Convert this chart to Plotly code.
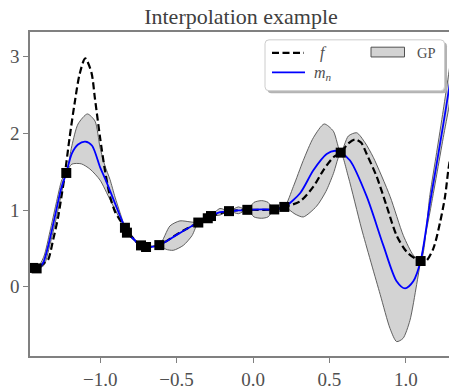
import plotly.graph_objects as go

# ---------------- data ----------------
obs_x = [-1.440, -1.416, -1.222, -0.838, -0.825, -0.733, -0.700, -0.613, -0.358, -0.296,
         -0.275, -0.157, -0.037, 0.139, 0.205, 0.574, 1.097]
obs_y = [0.246, 0.240, 1.485, 0.770, 0.706, 0.540, 0.519, 0.544, 0.838, 0.894,
         0.923, 0.987, 1.004, 1.009, 1.042, 1.750, 0.336]

f_x = [-1.461, -1.433, -1.394, -1.368, -1.342, -1.309, -1.276, -1.255, -1.232, -1.200,
       -1.167, -1.134, -1.098, -1.058, -1.034, -1.001, -0.969, -0.936, -0.903, -0.870,
       -0.838, -0.798, -0.740, -0.674, -0.613, -0.491, -0.358, -0.281, -0.157, -0.037,
       0.139, 0.205, 0.308, 0.395, 0.460, 0.526, 0.574, 0.622, 0.668, 0.707,
       0.744, 0.810, 0.875, 0.940, 1.006, 1.060, 1.097, 1.132, 1.180, 1.224,
       1.257, 1.278, 1.302]
f_y = [0.259, 0.253, 0.262, 0.310, 0.349, 0.604, 0.902, 1.157, 1.460, 1.950,
       2.400, 2.780, 2.980, 2.800, 2.450, 1.950, 1.520, 1.180, 0.980, 0.870,
       0.774, 0.668, 0.540, 0.521, 0.544, 0.693, 0.838, 0.914, 0.987, 1.004,
       1.009, 1.042, 1.115, 1.307, 1.520, 1.690, 1.750, 1.868, 1.923, 1.881,
       1.732, 1.434, 1.051, 0.668, 0.455, 0.370, 0.336, 0.336, 0.498, 0.838,
       1.179, 1.520, 1.817]

mean_x = [-1.461, -1.433, -1.407, -1.374, -1.342, -1.298, -1.255, -1.222, -1.185, -1.145,
          -1.098, -1.054, -1.001, -0.968, -0.936, -0.870, -0.838, -0.827, -0.780, -0.740,
          -0.700, -0.613, -0.489, -0.358, -0.296, -0.275, -0.216, -0.157, -0.096, -0.037,
          0.057, 0.139, 0.205, 0.308, 0.395, 0.482, 0.537, 0.574, 0.635, 0.744,
          0.853, 0.940, 0.995, 1.049, 1.097, 1.158, 1.202, 1.245, 1.283, 1.302]
mean_y = [0.250, 0.246, 0.242, 0.310, 0.519, 0.902, 1.285, 1.485, 1.741, 1.856,
          1.894, 1.843, 1.562, 1.410, 1.255, 0.923, 0.770, 0.706, 0.620, 0.540,
          0.519, 0.544, 0.690, 0.838, 0.894, 0.923, 0.974, 0.987, 0.996, 1.004,
          1.009, 1.009, 1.042, 1.221, 1.520, 1.732, 1.775, 1.750, 1.648, 1.179,
          0.540, 0.072, -0.022, 0.072, 0.336, 1.093, 1.604, 2.115, 2.584, 2.840]

upper_x = [-1.461, -1.407, -1.368, -1.329, -1.289, -1.250, -1.222, -1.185, -1.145, -1.084,
           -1.034, -1.001, -0.969, -0.936, -0.903, -0.870, -0.838, -0.827, -0.780, -0.733,
           -0.700, -0.613, -0.543, -0.478, -0.412, -0.358, -0.296, -0.275, -0.216, -0.157,
           -0.096, -0.037, 0.007, 0.057, 0.098, 0.139, 0.205, 0.264, 0.329, 0.395,
           0.466, 0.526, 0.574, 0.624, 0.679, 0.733, 0.787, 0.897, 0.984, 1.049,
           1.097, 1.158, 1.202, 1.245, 1.283, 1.302]
upper_y = [0.262, 0.262, 0.400, 0.720, 1.080, 1.400, 1.486, 1.843, 2.124, 2.255,
           2.162, 1.817, 1.580, 1.400, 1.170, 0.966, 0.774, 0.712, 0.635, 0.545,
           0.519, 0.544, 0.795, 0.860, 0.847, 0.838, 0.894, 0.923, 1.022, 0.987,
           1.042, 1.004, 1.102, 1.124, 1.102, 1.009, 1.042, 1.307, 1.648, 1.945,
           2.124, 2.030, 1.750, 1.967, 2.009, 1.881, 1.690, 1.179, 0.668, 0.413,
           0.336, 1.204, 1.754, 2.303, 2.813, 3.090]

lower_x = [-1.461, -1.407, -1.368, -1.329, -1.289, -1.250, -1.222, -1.185, -1.124, -1.067,
           -1.001, -0.936, -0.870, -0.838, -0.827, -0.780, -0.733, -0.700, -0.613, -0.569,
           -0.522, -0.456, -0.399, -0.358, -0.296, -0.275, -0.216, -0.157, -0.096, -0.037,
           0.007, 0.057, 0.098, 0.139, 0.205, 0.275, 0.329, 0.416, 0.477, 0.526,
           0.574, 0.624, 0.711, 0.832, 0.897, 0.940, 0.982, 1.027, 1.071, 1.097,
           1.158, 1.202, 1.245, 1.283, 1.302]
lower_y = [0.246, 0.238, 0.280, 0.550, 0.880, 1.250, 1.486, 1.600, 1.604, 1.536,
           1.392, 1.137, 0.881, 0.770, 0.700, 0.605, 0.535, 0.519, 0.544, 0.489,
           0.476, 0.540, 0.668, 0.838, 0.894, 0.923, 0.936, 0.987, 0.953, 1.004,
           0.911, 0.894, 0.911, 1.009, 1.042, 0.949, 0.911, 1.051, 1.243, 1.476,
           1.750, 1.434, 0.753, -0.098, -0.545, -0.715, -0.673, -0.439, 0.029, 0.336,
           0.974, 1.460, 1.945, 2.354, 2.610]

x_ticks = [-1.0, -0.5, 0.0, 0.5, 1.0]
y_ticks = [0, 1, 2, 3]
x_range = [-1.4594, 1.2827]
y_range = [-0.903, 3.324]

# ---------------- figure ----------------
W, H = 449, 390
ML, MR, MT, MB = 30, 0, 32, 27
PW, PH = W - ML - MR, H - MT - MB

FONT = "'Liberation Serif', 'DejaVu Serif', 'Times New Roman', serif"
TXT = "#505050"
AX = "#808080"

fig = go.Figure()

band_x = upper_x + lower_x[::-1]
band_y = upper_y + lower_y[::-1]
fig.add_trace(go.Scatter(x=band_x, y=band_y, fill="toself", fillcolor="#d3d3d3",
                         mode="lines", line=dict(color="#505050", width=0.9, shape="spline", smoothing=0.7),
                         showlegend=False, hoverinfo="skip"))
fig.add_trace(go.Scatter(x=f_x, y=f_y, mode="lines",
                         line=dict(color="black", width=2.2, dash="7px,3.5px", shape="spline", smoothing=0.8),
                         showlegend=False))
fig.add_trace(go.Scatter(x=mean_x, y=mean_y, mode="lines",
                         line=dict(color="#0000ff", width=1.8, shape="spline", smoothing=0.8),
                         showlegend=False))
fig.add_trace(go.Scatter(x=obs_x, y=obs_y, mode="markers",
                         marker=dict(symbol="square", size=10, color="black", line=dict(width=0)),
                         showlegend=False))


def px_x(p):
    return (p - ML) / PW


def px_y(p):
    return (H - MB - p) / PH


def rounded(x0, y0, x1, y1, r):
    rx, ry = r / PW, r / PH
    X0, X1 = px_x(x0), px_x(x1)
    Y0, Y1 = px_y(y0), px_y(y1)  # Y0 top, Y1 bottom (paper)
    return (f"M {X0+rx},{Y0} L {X1-rx},{Y0} Q {X1},{Y0} {X1},{Y0-ry} "
            f"L {X1},{Y1+ry} Q {X1},{Y1} {X1-rx},{Y1} L {X0+rx},{Y1} "
            f"Q {X0},{Y1} {X0},{Y1+ry} L {X0},{Y0-ry} Q {X0},{Y0} {X0+rx},{Y0} Z")


shapes = []
# legend shadow and box
shapes.append(dict(type="path", xref="paper", yref="paper", layer="above",
                   path=rounded(267.5, 42.5, 447, 94.5, 4), fillcolor="#b3b3b3", line=dict(width=0)))
shapes.append(dict(type="path", xref="paper", yref="paper", layer="above",
                   path=rounded(265, 40, 444.5, 92, 4), fillcolor="white", line=dict(color="#cccccc", width=1)))
# legend samples
shapes.append(dict(type="line", xref="paper", yref="paper", layer="above",
                   x0=px_x(272), x1=px_x(304), y0=px_y(53.3), y1=px_y(53.3),
                   line=dict(color="black", width=2.2, dash="7px,3.5px")))
shapes.append(dict(type="rect", xref="paper", yref="paper", layer="above",
                   x0=px_x(371), x1=px_x(404.5), y0=px_y(47.5), y1=px_y(57.5),
                   fillcolor="#d3d3d3", line=dict(color="#505050", width=1)))
shapes.append(dict(type="line", xref="paper", yref="paper", layer="above",
                   x0=px_x(272), x1=px_x(305), y0=px_y(73.3), y1=px_y(73.3),
                   line=dict(color="#0000ff", width=1.8)))

annotations = [
    dict(xref="paper", yref="paper", x=px_x(319), y=px_y(53), text="<i>f</i>",
         showarrow=False, xanchor="left", yanchor="middle", borderpad=0,
         font=dict(family=FONT, size=16, color=TXT)),
    dict(xref="paper", yref="paper", x=px_x(416), y=px_y(53), text="GP",
         showarrow=False, xanchor="left", yanchor="middle", borderpad=0,
         font=dict(family=FONT, size=14.5, color=TXT)),
    dict(xref="paper", yref="paper", x=px_x(313), y=px_y(74), text="<i>m</i><sub><i>n</i></sub>",
         showarrow=False, xanchor="left", yanchor="middle", borderpad=0,
         font=dict(family=FONT, size=16, color=TXT)),
]

fig.update_layout(
    width=W, height=H,
    margin=dict(l=ML, r=MR, t=MT, b=MB, pad=0),
    paper_bgcolor="white", plot_bgcolor="white",
    showlegend=False,
    title=dict(text="Interpolation example", x=241 / W, xanchor="center",
               y=1 - 16 / H, yanchor="middle", yref="container",
               font=dict(family=FONT, size=22, color="#404040")),
    shapes=shapes, annotations=annotations,
    xaxis=dict(range=x_range, tickvals=x_ticks, tickformat=".1f",
               showgrid=False, zeroline=False, showline=True, linecolor=AX, linewidth=1.5,
               mirror=True, ticks="outside", ticklen=5, tickwidth=1.2, tickcolor=AX,
               tickfont=dict(family=FONT, size=19, color=TXT)),
    yaxis=dict(range=y_range, tickvals=y_ticks, tickformat="d",
               showgrid=False, zeroline=False, showline=True, linecolor=AX, linewidth=1.5,
               mirror=False, ticks="outside", ticklen=5, tickwidth=1.2, tickcolor=AX,
               tickfont=dict(family=FONT, size=19, color=TXT)),
)

fig.write_html("out.html")
